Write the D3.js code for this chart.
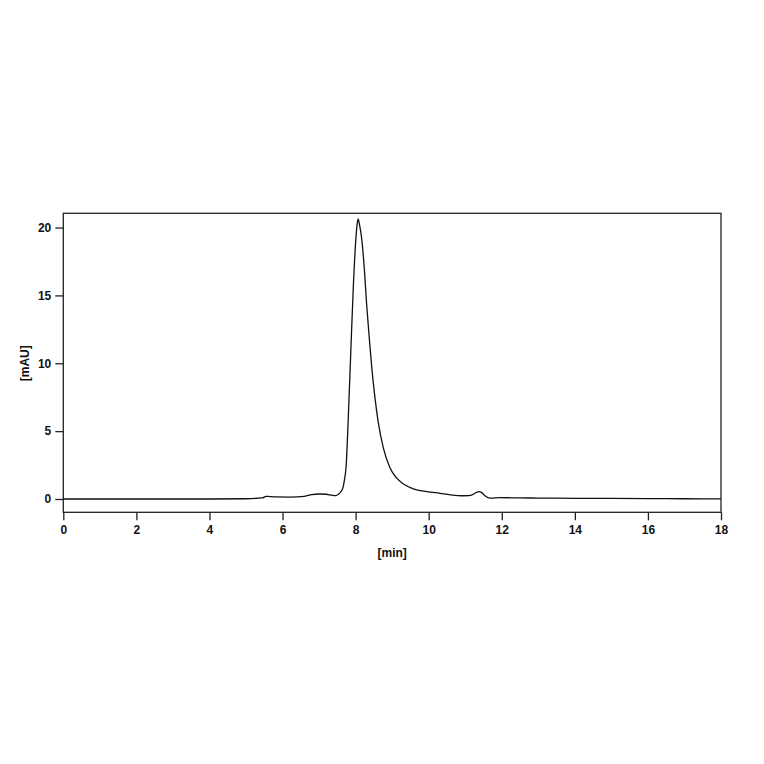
<!DOCTYPE html>
<html>
<head>
<meta charset="utf-8">
<script src="https://cdn.jsdelivr.net/npm/d3@7"></script>
<style>
  body { margin: 0; background: #fff; }
  svg text { font-family: "Liberation Sans", Arial, sans-serif; font-weight: bold; font-size: 12px; fill: #111; }
</style>
</head>
<body>
<script>
// retention time [min]
var times = [0, 1, 2, 3, 4, 5, 5.45, 5.55, 5.65, 5.8, 6.2, 6.6, 6.8, 7.0, 7.2, 7.35, 7.45, 7.53,
    7.6, 7.66, 7.7, 7.74, 7.8, 7.87, 7.94, 8.0, 8.04, 8.07, 8.1, 8.17, 8.24, 8.3, 8.37, 8.44, 8.53, 8.62,
    8.76, 8.94, 9.12, 9.31, 9.58, 9.95, 10.31, 10.6, 10.95, 11.1, 11.2, 11.3, 11.38, 11.46, 11.54,
    11.68, 11.95, 12.5, 13, 14, 15, 16, 17, 18];
// absorbance [mAU]
var signal = [0, 0, 0, 0, 0, 0.02, 0.08, 0.2, 0.18, 0.15, 0.14, 0.2, 0.33, 0.37, 0.35, 0.28, 0.25, 0.35,
    0.55, 0.9, 1.5, 2.4, 6.0, 11.0, 15.8, 18.9, 20.2, 20.63, 20.3, 19.1, 16.9, 14.4, 12.0, 9.75, 7.45, 5.65,
    3.75, 2.3, 1.55, 1.1, 0.75, 0.55, 0.42, 0.31, 0.24, 0.25, 0.32, 0.48, 0.55, 0.45, 0.24,
    0.06, 0.1, 0.08, 0.07, 0.05, 0.04, 0.03, 0.02, 0.01];

var xTicks = [0, 2, 4, 6, 8, 10, 12, 14, 16, 18];
var yTicks = [0, 5, 10, 15, 20];

var width = 764, height = 764;
var margin = {left: 63.3, right: 43, top: 213.3, bottom: 251.7};

var svg = d3.select("body").append("svg")
    .attr("width", width)
    .attr("height", height);

var x = d3.scaleLinear().domain([0, 18]).range([margin.left, width - margin.right]);
var y = d3.scaleLinear().domain([-0.98, 21.05]).range([height - margin.bottom, margin.top]);

// frame
svg.append("rect")
    .attr("x", margin.left)
    .attr("y", margin.top)
    .attr("width", width - margin.left - margin.right)
    .attr("height", height - margin.top - margin.bottom)
    .style("fill", "none")
    .style("stroke", "#222")
    .style("stroke-width", 1.3);

var xAxis = svg.append("g")
    .attr("transform", `translate(0,${height - margin.bottom})`)
    .call(d3.axisBottom(x).tickValues(xTicks).tickSize(8).tickPadding(5).tickFormat(d3.format("d")));

var yAxis = svg.append("g")
    .attr("transform", `translate(${margin.left},0)`)
    .call(d3.axisLeft(y).tickValues(yTicks).tickSize(8).tickPadding(4).tickFormat(d3.format("d")));

[xAxis, yAxis].forEach(function (g) {
    g.select(".domain").remove();
    g.selectAll("line").style("stroke", "#222").style("stroke-width", 1.3);
    g.selectAll("text").style("font-family", "'Liberation Sans', Arial, sans-serif")
        .style("font-weight", "bold").style("font-size", "12px").style("fill", "#111");
});

// axis titles
svg.append("text")
    .attr("x", (x(0) + x(18)) / 2)
    .attr("y", 557)
    .attr("text-anchor", "middle")
    .text("[min]");

svg.append("text")
    .attr("transform", `translate(29,${y(10)}) rotate(-90)`)
    .attr("text-anchor", "middle")
    .text("[mAU]");

// trace
var trace = times.map(function (t, i) { return [t, signal[i]]; });

svg.append("path")
    .datum(trace)
    .attr("d", d3.line()
        .x(function (d) { return x(d[0]); })
        .y(function (d) { return y(d[1]); })
        .curve(d3.curveMonotoneX))
    .style("fill", "none")
    .style("stroke", "#111")
    .style("stroke-width", 1.3);
</script>
</body>
</html>
